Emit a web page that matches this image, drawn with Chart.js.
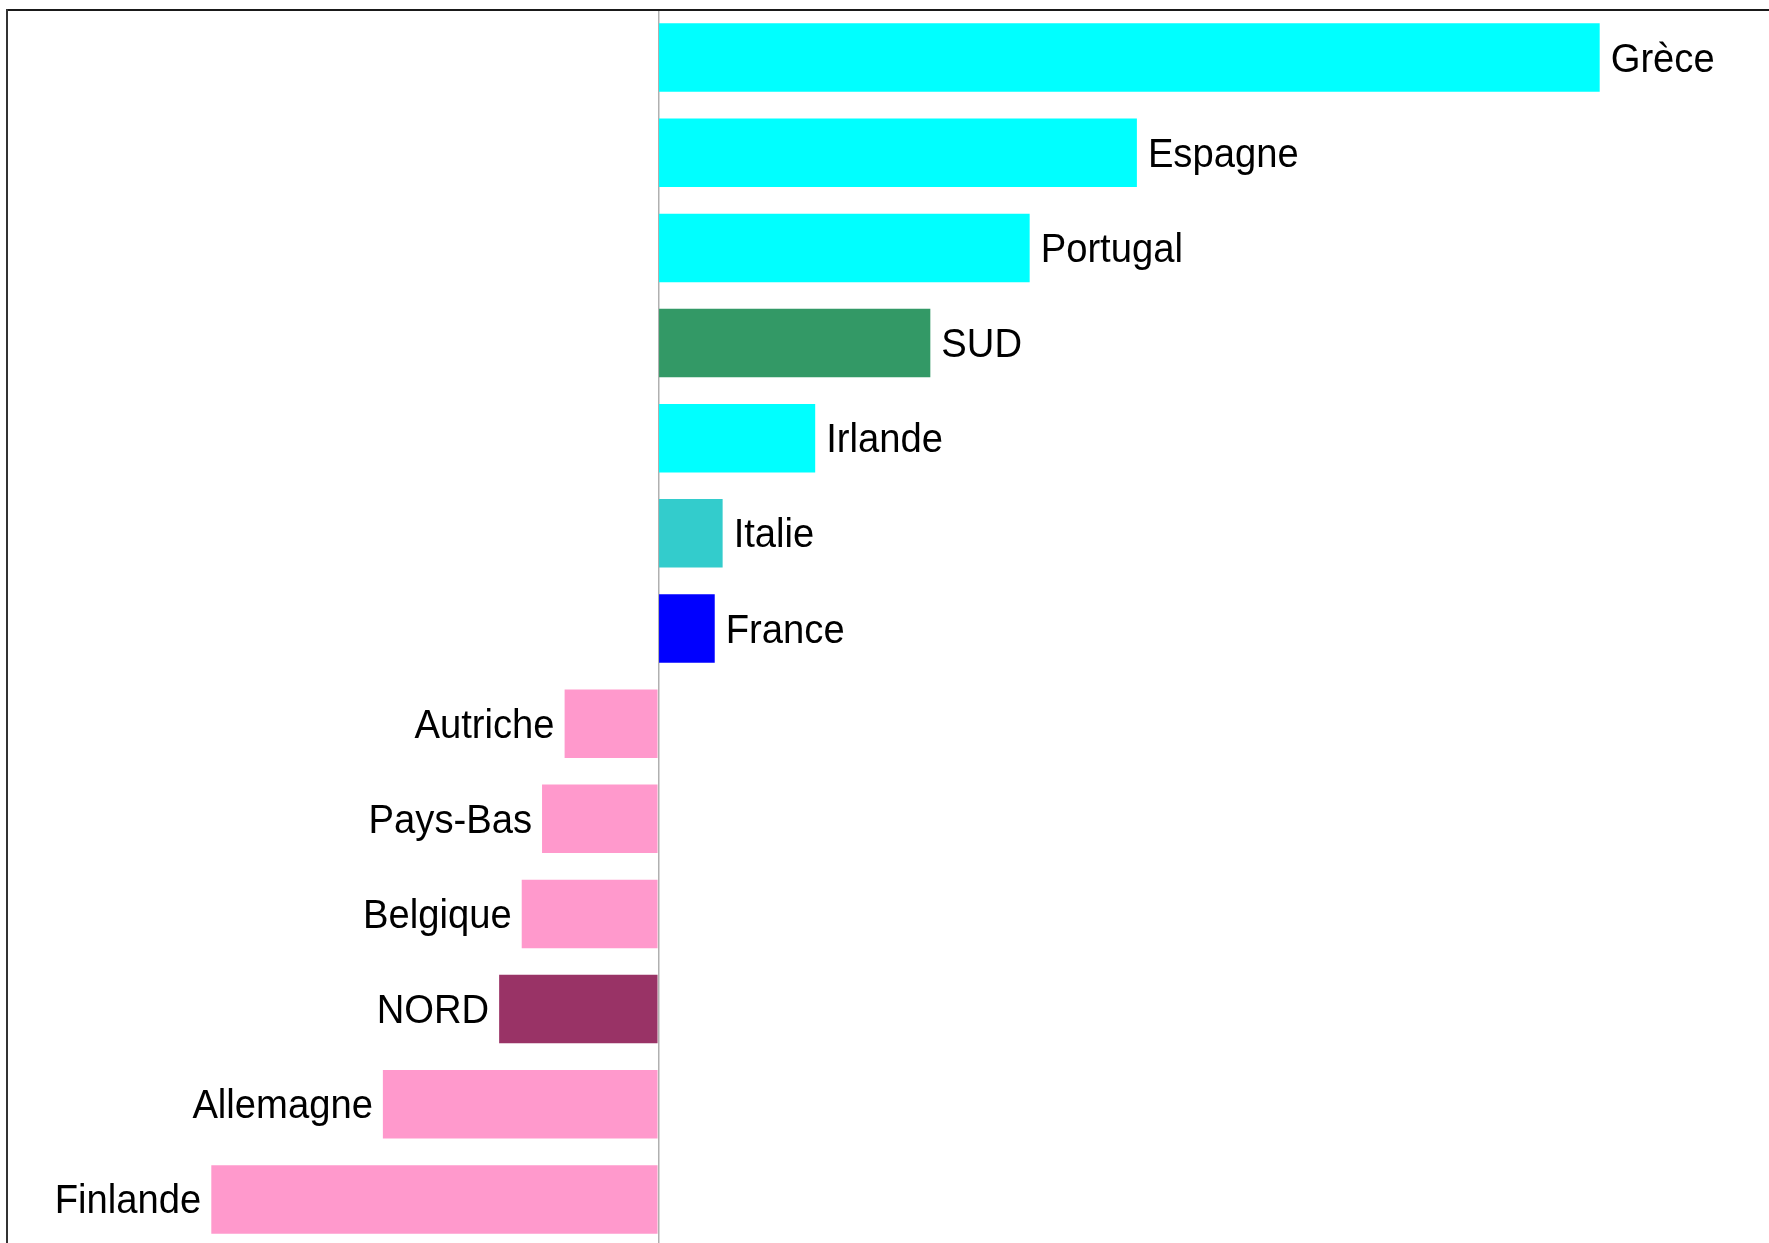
<!DOCTYPE html>
<html>
<head>
<meta charset="utf-8">
<script src="https://cdn.jsdelivr.net/npm/chart.js@4"></script>
<style>
  html, body { margin: 0; padding: 0; background: #fff; overflow: hidden; }
  #wrap { width: 1769px; height: 1247px; position: relative; }
</style>
</head>
<body>
<div id="wrap"><canvas id="chart"></canvas></div>
<script>
const countries = ['Grèce', 'Espagne', 'Portugal', 'SUD', 'Irlande', 'Italie', 'France',
  'Autriche', 'Pays-Bas', 'Belgique', 'NORD', 'Allemagne', 'Finlande'];
const values = [83.4, 42.4, 32.9, 24.1, 13.9, 5.7, 5.0, -8.3, -10.3, -12.1, -14.1, -24.4, -39.6];
const barColors = ['#00ffff', '#00ffff', '#00ffff', '#339966', '#00ffff', '#33cccc', '#0000ff',
  '#ff99cc', '#ff99cc', '#ff99cc', '#993366', '#ff99cc', '#ff99cc'];

// country names next to the end of each bar (slightly condensed like the original)
const barLabels = {
  id: 'barLabels',
  afterDatasetsDraw(chart) {
    const { ctx } = chart;
    const meta = chart.getDatasetMeta(0);
    const sx = 0.955;
    ctx.save();
    ctx.font = '40px "Liberation Sans", Arial, sans-serif';
    ctx.fillStyle = '#000';
    ctx.textBaseline = 'middle';
    meta.data.forEach((bar, i) => {
      const v = values[i];
      ctx.save();
      if (v >= 0) {
        ctx.translate(bar.x + 11, bar.y + 3);
        ctx.textAlign = 'left';
      } else {
        ctx.translate(bar.x - 10, bar.y + 3);
        ctx.textAlign = 'right';
      }
      ctx.scale(sx, 1);
      ctx.fillText(countries[i], 0, 0);
      ctx.restore();
    });
    ctx.restore();
  },
};

new Chart(document.getElementById('chart'), {
  type: 'bar',
  data: {
    labels: countries,
    datasets: [{ data: values, backgroundColor: barColors, barPercentage: 0.72, categoryPercentage: 1 }],
  },
  options: {
    indexAxis: 'y',
    responsive: true,
    maintainAspectRatio: false,
    animation: false,
    layout: { padding: { top: 10, left: 7, right: 0, bottom: 0 } },
    plugins: { legend: { display: false }, tooltip: { enabled: false } },
    scales: {
      x: {
        position: 'top',
        min: -57.7,
        max: 98.4,
        ticks: { display: false, stepSize: 10 },
        grid: {
          drawTicks: false,
          lineWidth: 1.5,
          color: (c) => (c.tick && c.tick.value === 0 ? '#b0b0b0' : 'rgba(0,0,0,0)'),
        },
        border: { display: true, color: '#1a1a1a', width: 2 },
      },
      y: {
        ticks: { display: false },
        grid: { display: false, drawTicks: false },
        border: { display: true, color: '#333', width: 2 },
      },
    },
  },
  plugins: [barLabels],
});
</script>
</body>
</html>
